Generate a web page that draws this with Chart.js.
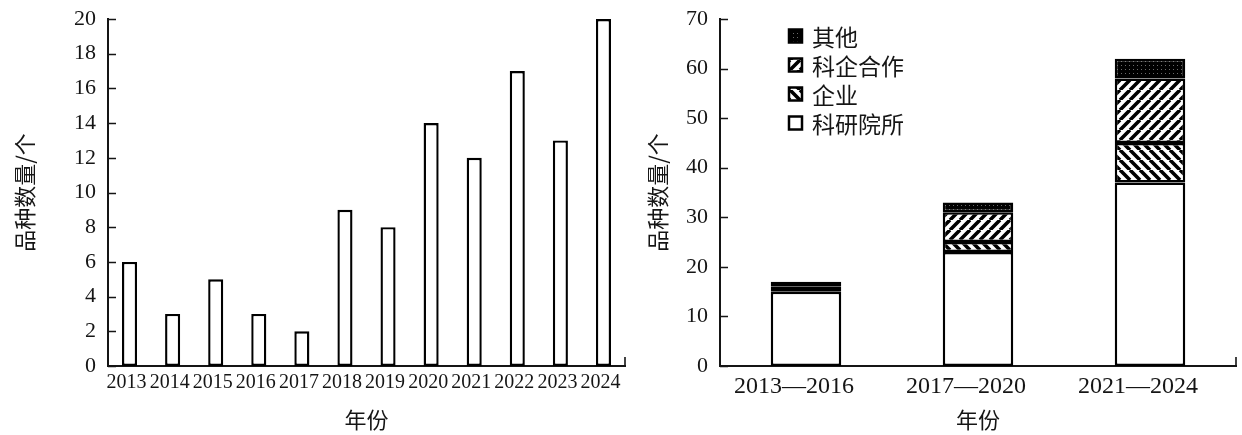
<!DOCTYPE html>
<html>
<head>
<meta charset="utf-8">
<script src="https://cdn.jsdelivr.net/npm/chart.js@4"></script>
<style>
  html, body { margin: 0; padding: 0; background: #fff; }
  #wrap { position: relative; width: 1242px; height: 435px; }
  .box { position: absolute; top: 0; height: 435px; }
</style>
</head>
<body>
<div id="wrap">
  <div class="box" style="left:0;width:640px"><canvas id="year-chart"></canvas></div>
  <div class="box" style="left:640px;width:602px"><canvas id="period-chart"></canvas></div>
</div>
<script>
// 左图：逐年品种数量
const years = ['2013', '2014', '2015', '2016', '2017', '2018', '2019', '2020', '2021', '2022', '2023', '2024']
const yearCounts = [6, 3, 5, 3, 2, 9, 8, 14, 12, 17, 13, 20]

// 右图：分阶段、按育种单位
const periods = ['2013—2016', '2017—2020', '2021—2024']
const institute = [15, 23, 37]
const enterprise = [1, 2, 8]
const cooperation = [0, 6, 13]
const other = [1, 2, 4]

const FONT = "'Liberation Serif', 'Noto Sans CJK SC', serif"
const CJK = "'Noto Sans CJK SC', 'Liberation Serif', sans-serif"
const INK = '#151515'

Chart.defaults.font.family = FONT
Chart.defaults.font.size = 20
Chart.defaults.color = INK
Chart.defaults.animation = false

// 填充图案
function makePattern(ctx, kind) {
  const c = document.createElement('canvas')
  const n = kind === 'dots' ? 4 : 10
  c.width = c.height = n
  const g = c.getContext('2d')
  if (kind === 'dots') {
    g.fillStyle = '#000'
    g.fillRect(0, 0, n, n)
    g.fillStyle = '#6a6a6a'
    g.fillRect(1, 1, 1, 1)
    return ctx.createPattern(c, 'repeat')
  }
  g.fillStyle = '#fff'
  g.fillRect(0, 0, n, n)
  g.strokeStyle = '#000'
  g.lineWidth = 3.6
  g.beginPath()
  for (let k = -1; k <= 1; k++) {
    if (kind === 'slash') {
      g.moveTo(k * n, n); g.lineTo(k * n + n, 0)
    } else {
      g.moveTo(k * n, 0); g.lineTo(k * n + n, n)
    }
  }
  g.stroke()
  return ctx.createPattern(c, 'repeat')
}

// 刻度线朝内 + x轴末端小刻度
const innerTicks = {
  id: 'innerTicks',
  afterDraw(chart) {
    const { ctx, chartArea } = chart
    const y = chart.scales.y
    ctx.save()
    ctx.strokeStyle = INK
    ctx.lineWidth = 1.6
    ctx.beginPath()
    y.ticks.forEach((t, i) => {
      const py = Math.round(y.getPixelForTick(i)) + 0.5
      ctx.moveTo(chartArea.left, py)
      ctx.lineTo(chartArea.left + 8, py)
    })
    ctx.moveTo(chartArea.right, chartArea.bottom)
    ctx.lineTo(chartArea.right, chartArea.bottom - 9)
    ctx.stroke()
    ctx.restore()
  }
}

// 图内图例（倒序）
const insideLegend = {
  id: 'insideLegend',
  afterDraw(chart) {
    const { ctx, chartArea } = chart
    const sets = [...chart.data.datasets].reverse()
    ctx.save()
    ctx.font = '23px ' + CJK
    ctx.textBaseline = 'middle'
    sets.forEach((ds, i) => {
      const cy = 36 + i * 29
      const x = chartArea.left + 69
      ctx.fillStyle = ds.backgroundColor
      ctx.fillRect(x, cy - 6.5, 13, 13)
      ctx.strokeStyle = '#000'
      ctx.lineWidth = 2.5
      ctx.strokeRect(x, cy - 6.5, 13, 13)
      ctx.fillStyle = INK
      ctx.fillText(ds.label, x + 23, cy + 1)
    })
    ctx.restore()
  }
}

function axes(max, step, yWidth, titlePad, xFont, xPad, xShift) {
  return {
    x: {
      grid: { display: false, drawTicks: false },
      border: { display: true, color: INK, width: 2 },
      ticks: { padding: xPad, autoSkip: false, maxRotation: 0, labelOffset: xShift, color: INK, font: { size: xFont } },
      title: { display: true, text: '年份', font: { family: CJK, size: 22 }, padding: { top: 0, bottom: 2 }, color: INK },
      afterFit: s => { s.height = 69; s.paddingLeft = 0; s.paddingRight = 0 }
    },
    y: {
      min: 0, max, stacked: true,
      grid: { display: false, drawTicks: false },
      border: { display: true, color: INK, width: 2 },
      ticks: { stepSize: step, padding: 12, color: INK, font: { size: 22 } },
      title: { display: true, text: '品种数量/个', font: { family: CJK, size: 22 }, padding: { top: titlePad, bottom: 0 }, color: INK },
      // 绘图区上下边距由 layout.padding 决定
      afterFit: s => { s.width = yWidth; s.paddingTop = 0; s.paddingBottom = 0 }
    }
  }
}

new Chart(document.getElementById('year-chart'), {
  type: 'bar',
  data: {
    labels: years,
    datasets: [{
      label: '品种数量',
      data: yearCounts,
      backgroundColor: '#fff',
      borderColor: '#000',
      borderWidth: 2.4,
      borderSkipped: false,
      categoryPercentage: 1,
      barPercentage: 0.35
    }]
  },
  options: {
    responsive: true,
    maintainAspectRatio: false,
    layout: { padding: { left: 0, top: 19, right: 15, bottom: 0 } },
    plugins: { legend: { display: false }, tooltip: { enabled: false } },
    scales: axes(20, 2, 108, 11, 20, 5, -3)
  },
  plugins: [innerTicks]
})

const rctx = document.getElementById('period-chart').getContext('2d')
const periodScales = axes(70, 10, 80, 4, 24, 6, -12)
periodScales.x.stacked = true

new Chart(rctx, {
  type: 'bar',
  data: {
    labels: periods,
    datasets: [
      { label: '科研院所', data: institute, backgroundColor: '#fff' },
      { label: '企业', data: enterprise, backgroundColor: makePattern(rctx, 'back') },
      { label: '科企合作', data: cooperation, backgroundColor: makePattern(rctx, 'slash') },
      { label: '其他', data: other, backgroundColor: makePattern(rctx, 'dots') }
    ].map(ds => ({
      ...ds,
      data: ds.data.map(v => v || null), // 0 不画边框
      borderColor: '#000',
      borderWidth: 2.5,
      borderSkipped: false,
      categoryPercentage: 1,
      barPercentage: 0.41
    }))
  },
  options: {
    responsive: true,
    maintainAspectRatio: false,
    layout: { padding: { left: 0, top: 19, right: 6, bottom: 0 } },
    plugins: { legend: { display: false }, tooltip: { enabled: false } },
    scales: periodScales
  },
  plugins: [innerTicks, insideLegend]
})
</script>
</body>
</html>
